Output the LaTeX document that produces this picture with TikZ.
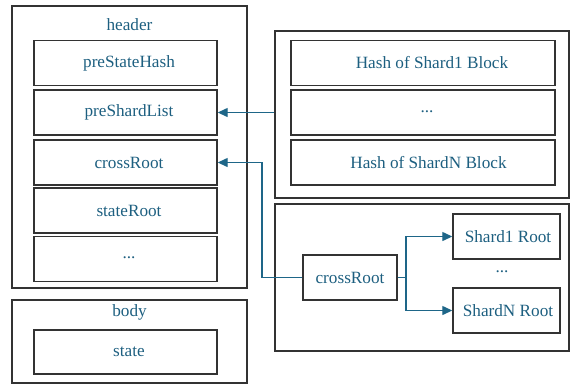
\documentclass[tikz,border=0pt]{standalone}
\usepackage{fontspec}
\setmainfont{Liberation Serif}
\usetikzlibrary{arrows.meta}
\definecolor{txt}{HTML}{1D5F80}
\definecolor{arr}{HTML}{1E6688}
\definecolor{bd}{HTML}{333333}
\newcommand{\rs}[2]{\hspace*{#1}#2}
\tikzset{
  outerbox/.style={draw=bd, line width=1.4pt, minimum width=#1, inner sep=0pt},
  fbox/.style={draw=bd, line width=1.4pt, text=txt, font=\fontsize{17.2}{19}\selectfont, inner sep=0pt, minimum height=45pt},
  lbl/.style={text=txt, font=\fontsize{17.2}{19}\selectfont, inner sep=0pt},
  conn/.style={draw=arr, line width=1.3pt, -{Triangle[length=10pt,width=9pt]}},
  line/.style={draw=arr, line width=1.3pt}
}
\begin{document}
\begin{tikzpicture}[x=1pt,y=-1pt]
\useasboundingbox (0,0) rectangle (580,384);
% left header
\node[outerbox=235pt, minimum height=282pt] (hdr) at (129.5,147) {};
\node[lbl] (hdrl) at (129.5,25) {header};
\node[fbox, minimum width=183pt] (psh) at (125.5,63) {\rs{7pt}{preStateHash}};
\node[fbox, minimum width=183pt] (psl) at (125.5,112.5) {\rs{7pt}{preShardList}};
\node[fbox, minimum width=183pt] (cr) at (125.5,162.5) {\rs{7pt}{crossRoot}};
\node[fbox, minimum width=183pt] (sr) at (125.5,210.5) {\rs{7pt}{stateRoot}};
\node[fbox, minimum width=183pt] (hd) at (125.5,259) {\rs{7pt}{\raisebox{0.3ex}{...}}};
% body
\node[outerbox=235pt, minimum height=83pt] (bdy) at (129.5,341.5) {};
\node[lbl] (bdyl) at (129.5,312) {body};
\node[fbox, minimum width=183pt, minimum height=44pt] (st) at (125.5,352) {\rs{7pt}{state}};
% right top
\node[outerbox=294pt, minimum height=167pt] (rtop) at (422,114.5) {};
\node[fbox, minimum width=264pt] (h1) at (423,63) {\rs{18pt}{Hash of Shard1 Block}};
\node[fbox, minimum width=264pt] (hm) at (423,112.5) {\rs{8pt}{\raisebox{0.3ex}{...}}};
\node[fbox, minimum width=264pt] (hn) at (423,162.5) {\rs{11pt}{Hash of ShardN Block}};
% right bottom
\node[outerbox=294pt, minimum height=147pt] (rbot) at (422,277.5) {};
\node[fbox, minimum width=94pt] (cr2) at (350,277.5) {crossRoot};
\node[fbox, minimum width=107pt] (s1) at (506.5,236.5) {\rs{3pt}{Shard1 Root}};
\node[fbox, minimum width=107pt] (sn) at (506.5,310.5) {\rs{3pt}{ShardN Root}};
\node[lbl] (sd) at (502,272) {...};
% connectors
\draw[conn] (psl.east -| rtop.west) -- (psl.east);
\coordinate (bend) at (262,277.5);
\draw[conn] (cr2.west) -- (bend) |- (cr.east);
\coordinate (br) at (406,277.5);
\draw[line] (cr2.east) -- (br);
\draw[conn] (br) |- (s1.west);
\draw[conn] (br) |- (sn.west);
\end{tikzpicture}
\end{document}
